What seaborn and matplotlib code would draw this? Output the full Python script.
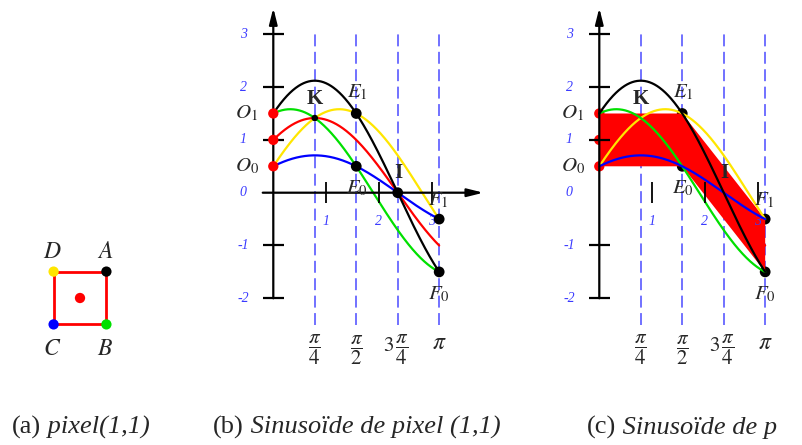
import numpy as np
import pandas as pd
import matplotlib
matplotlib.use("Agg")
import matplotlib.pyplot as plt
from matplotlib.patches import Rectangle
from matplotlib.text import Annotation
import seaborn as sns

sns.set_theme(style="white")
plt.rcParams['font.family'] = ['Liberation Serif', 'DejaVu Serif']
plt.rcParams['mathtext.fontset'] = 'stix'

# ---- data -------------------------------------------------------------
# corners of pixel (1,1) and the colour used for each one
corner_names = ['A', 'B', 'C', 'D']
corner_x = [1.5, 1.5, 0.5, 0.5]
corner_y = [1.5, 0.5, 0.5, 1.5]
corner_colors = ['#000000', '#00e000', '#0000ff', '#ffe600']
center_name = 'O'
center_x, center_y = 1.0, 1.0
center_color = '#ff0000'

# angle axis: reference angles and their labels
angle_ticks = [np.pi / 4, np.pi / 2, 3 * np.pi / 4, np.pi]
angle_labels = [r'$\dfrac{\pi}{4}$', r'$\dfrac{\pi}{2}$',
                r'$3\,\dfrac{\pi}{4}$', r'$\pi$']

# numeric graduations
rho_ticks = [-2, -1, 0, 1, 2, 3]
theta_ticks = [1, 2, 3]

# remarkable points on the sinusoids
origin_rho = [1.5, 1.0, 0.5]                      # red dots on the rho axis
pt_names = ['E1', 'E0', 'I', 'F1', 'F0']
pt_theta = [np.pi / 2, np.pi / 2, 3 * np.pi / 4, np.pi, np.pi]
pt_rho = [1.5, 0.5, 0.0, -0.5, -1.5]
k_theta, k_rho = np.pi / 4, np.sqrt(2)

# band swept by the pixel: O0, O1, E1, F1, F0, E0
band_theta = [0, 0, np.pi / 2, np.pi, np.pi, np.pi / 2]
band_rho = [0.5, 1.5, 1.5, -0.5, -1.5, 0.5]

# ---- sinusoids rho = x cos(theta) + y sin(theta) ------------------------
theta = np.linspace(0, np.pi, 400)
frames = []
for name, x, y in zip(corner_names + [center_name],
                      corner_x + [center_x], corner_y + [center_y]):
    frames.append(pd.DataFrame({'theta': theta,
                                'rho': x * np.cos(theta) + y * np.sin(theta),
                                'point': name}))
curves = pd.concat(frames, ignore_index=True)
palette = dict(zip(corner_names + [center_name], corner_colors + [center_color]))

# ---- layout -----------------------------------------------------------
W, H = 803, 445
UNIT = 52.8  # pixels per unit on both axes
fig = plt.figure(figsize=(W / 100, H / 100), dpi=100)


def make_axes(left, right, top, bottom, ox, oy):
    ax = fig.add_axes([left / W, 1 - bottom / H, (right - left) / W, (bottom - top) / H])
    ax.set_xlim((left - ox) / UNIT, (right - ox) / UNIT)
    ax.set_ylim((oy - bottom) / UNIT, (oy - top) / UNIT)
    ax.axis('off')
    return ax


TICK_BLUE = '#3a3aff'
DASH_BLUE = '#4a4aff'


def draw_frame(ax):
    arrow = dict(arrowstyle='-|>,head_length=0.8,head_width=0.2', color='black',
                 lw=1.6, shrinkA=0, shrinkB=0)
    ax.annotate('', xy=(0, 3.5), xytext=(0, -2.0), arrowprops=arrow, zorder=4)
    ax.annotate('', xy=(3.98, 0), xytext=(-0.2, 0), arrowprops=arrow, zorder=4)
    ax.hlines([r for r in rho_ticks if r != 0], -0.2, 0.2, colors='black', lw=1.6, zorder=4)
    ax.vlines(theta_ticks, -0.2, 0.2, colors='black', lw=1.3, zorder=4)
    for r in rho_ticks:
        ax.text(-0.57, r, str(r), color=TICK_BLUE, fontsize=10, style='italic',
                ha='center', va='center')
    for t in theta_ticks:
        ax.text(t, -0.55, str(t), color=TICK_BLUE, fontsize=10, style='italic',
                ha='center', va='center')
    ax.vlines(angle_ticks, -2.5, 3.0, colors=DASH_BLUE, lw=1.1,
              linestyles=(0, (7.8, 3.6)), zorder=1)
    for a, lab in zip(angle_ticks, angle_labels):
        if lab == r'$\pi$':
            ax.text(a, -2.85, lab, fontsize=17, ha='center', va='center')
        elif lab.startswith(r'$3'):
            ax.text(a - 0.03, -2.98, lab, fontsize=15, ha='center', va='center')
        else:
            ax.text(a, -2.98, lab, fontsize=15, ha='center', va='center')


def draw_labels(ax):
    ax.text(-0.5, 1.5, r'$O_1$', fontsize=15, ha='center', va='center', zorder=6)
    ax.text(-0.5, 0.5, r'$O_0$', fontsize=15, ha='center', va='center', zorder=6)
    ax.text(0.79, 1.77, 'K', fontsize=15, fontweight='bold', ha='center', va='center', zorder=6)
    ax.text(1.6, 1.9, r'$E_1$', fontsize=15, ha='center', va='center', zorder=6)
    ax.text(1.58, 0.08, r'$E_0$', fontsize=15, ha='center', va='center', zorder=6)
    ax.text(2.37, 0.37, 'I', fontsize=15, fontweight='bold', ha='center', va='center', zorder=6)
    ax.text(3.12, -0.15, r'$F_1$', fontsize=15, ha='center', va='center', zorder=6)
    ax.text(3.13, -1.93, r'$F_0$', fontsize=15, ha='center', va='center', zorder=6)


def draw_curves(ax, order, z):
    sub = curves[curves['point'].isin(order)]
    sns.lineplot(data=sub, x='theta', y='rho', hue='point', hue_order=order,
                 palette=palette, estimator=None, sort=False, legend=False,
                 lw=1.6, ax=ax, zorder=z)


# ---- (a) the pixel ------------------------------------------------------
ax_a = make_axes(0, 170, 210, 390, 80 - UNIT, 298 + UNIT)
ax_a.add_patch(Rectangle((0.5, 0.5), 1, 1, fill=False, edgecolor='#ff0000', lw=2.0, zorder=2))
sns.scatterplot(x=corner_x + [center_x], y=corner_y + [center_y],
                hue=corner_names + [center_name], palette=palette, s=55,
                edgecolor='none', legend=False, ax=ax_a, zorder=3)
for name, x, y in zip(corner_names, corner_x, corner_y):
    ly = 1.86 if y > 1 else 0.02
    ax_a.text(x - 0.02, ly, f'${name}$', fontsize=17, ha='center', va='center')
ax_a.set_xlim((0 - 80 + UNIT) / UNIT, (170 - 80 + UNIT) / UNIT)

# ---- (b) sinusoids ----------------------------------------------------------
ax_b = make_axes(200, 500, 0, 400, 273.3, 192.7)
draw_frame(ax_b)
draw_curves(ax_b, ['D', 'O', 'B', 'C', 'A'], 3)
ax_b.scatter([0] * len(origin_rho), origin_rho, s=55, color='#ff0000', edgecolor='none', zorder=5)
ax_b.scatter(pt_theta, pt_rho, s=60, color='black', edgecolor='none', zorder=5)
ax_b.scatter([k_theta], [k_rho], s=22, color='black', edgecolor='none', zorder=5)
draw_labels(ax_b)

# ---- (c) sinusoids and the swept band -----------------------------------------
ax_c = make_axes(526, 803, 0, 400, 599.3, 192.7)
draw_frame(ax_c)
ax_c.scatter([0] * len(origin_rho), origin_rho, s=55, color='#ff0000', edgecolor='none', zorder=1.5)
ax_c.scatter(pt_theta, pt_rho, s=60, color='black', edgecolor='none', zorder=1.5)
ax_c.fill(band_theta, band_rho, color='#ff0000', lw=0, zorder=2)
draw_curves(ax_c, ['O', 'D', 'B', 'C', 'A'], 3)
draw_labels(ax_c)

# ---- captions -------------------------------------------------------------------
def caption(x_px, tag, body):
    t = fig.text(x_px / W, 1 - 433.5 / H, tag, fontsize=19, va='baseline')
    ann = Annotation(' ' + body, xy=(1, 0), xycoords=t, ha='left', va='bottom',
                     fontsize=19, fontstyle='italic')
    fig.add_artist(ann)


caption(12, '(a)', 'pixel(1,1)')
caption(213, '(b)', 'Sinusoïde de pixel (1,1)')
caption(587, '(c)', 'Sinusoïde de p')

fig.savefig('out.png', dpi=100)
